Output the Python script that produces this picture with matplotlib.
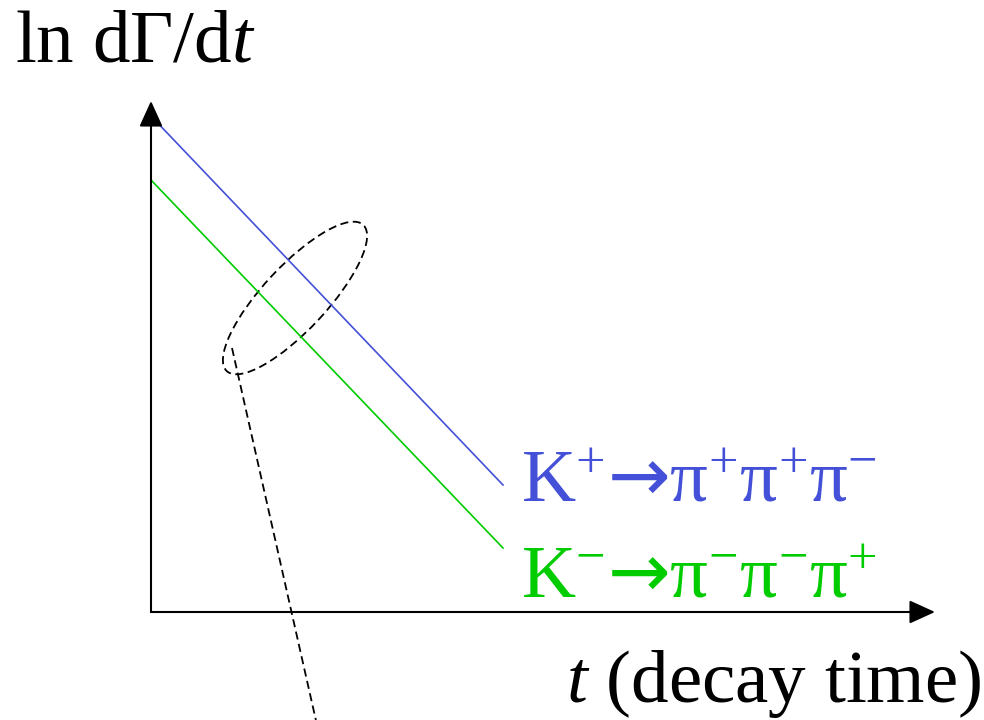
import matplotlib
matplotlib.use("Agg")
import matplotlib.pyplot as plt
from matplotlib.patches import Ellipse
import numpy as np

plt.rcParams['font.family'] = ['Liberation Serif', 'DejaVu Serif']
plt.rcParams['mathtext.fontset'] = 'custom'
plt.rcParams['mathtext.rm'] = 'Liberation Serif'
plt.rcParams['mathtext.it'] = 'Liberation Serif:italic'
plt.rcParams['mathtext.sf'] = 'DejaVu Sans'

# schematic decay-time distributions (arbitrary units)
t = [0.0, 3.52]
ln_rate_kplus = [4.96, 1.27]
ln_rate_kminus = [4.32, 0.64]

# region of interest and the pointer leaving it
roi_center = (1.44, 3.14)
roi_size = (2.0, 0.64)
roi_angle = 47
pointer_t = [0.81, 1.68]
pointer_y = [2.64, -1.22]

t_axis_end = 7.84
y_axis_end = 5.11

blue = '#4450d8'
green = '#00cc00'

fig = plt.figure(figsize=(9.84, 7.2), dpi=100)
ax = fig.add_axes([0, 0, 1, 1])
ax.set_xlim(-1.51, 8.33)
ax.set_ylim(-1.08, 6.12)
ax.axis('off')

# axes with arrow heads
arrow = dict(arrowstyle='-|>,head_length=1.1,head_width=0.5',
             color='black', lw=1.5, mutation_scale=14.4, shrinkA=0, shrinkB=0)
ax.annotate('', xy=(0, y_axis_end), xytext=(0, 0), arrowprops=arrow)
ax.annotate('', xy=(t_axis_end, 0), xytext=(0, 0), arrowprops=arrow)

ax.plot(t, ln_rate_kplus, color=blue, lw=1.2)
ax.plot(t, ln_rate_kminus, color=green, lw=1.2)

dash = (0, (4.5, 2.5))
ax.add_patch(Ellipse(roi_center, roi_size[0], roi_size[1], angle=roi_angle,
                     fill=False, ec='black', lw=1.3, ls=dash))
ax.plot(pointer_t, pointer_y, color='black', lw=1.3, ls=dash, clip_on=False)

fs = 54
ax.text(-1.36, 5.50, r'ln d$\Gamma$/d$t$', fontsize=fs, va='baseline')
ax.text(8.30, -0.90, r'$t$ (decay time)', fontsize=fs, va='baseline', ha='right')

ax.text(3.70, 1.11, r'K$^{+}\mathsf{→}$π$^{+}$π$^{+}$π$^{-}$', fontsize=fs,
        color=blue, va='baseline')
ax.text(3.70, 0.15, r'K$^{-}\mathsf{→}$π$^{-}$π$^{-}$π$^{+}$', fontsize=fs,
        color=green, va='baseline')

fig.savefig('out.png', dpi=100)
